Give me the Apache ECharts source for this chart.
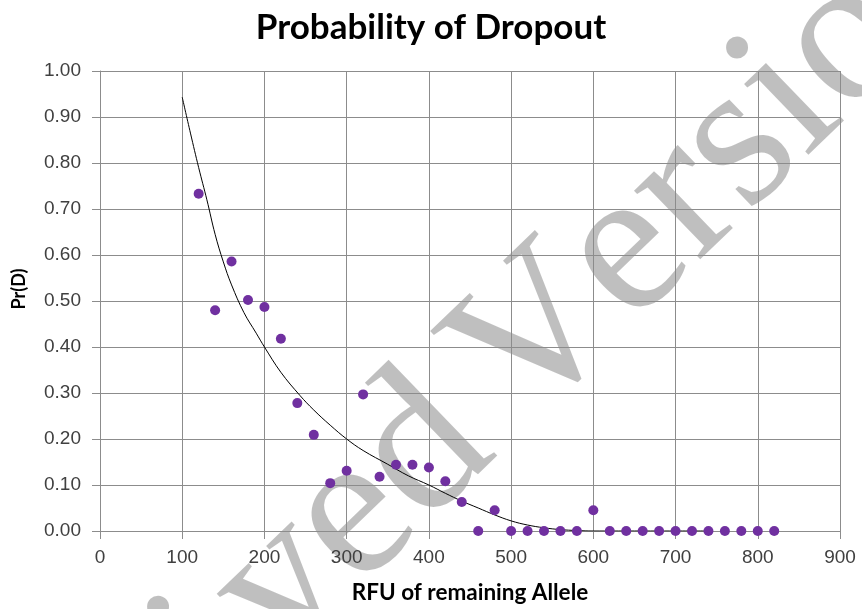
<!DOCTYPE html>
<html>
<head>
<meta charset="utf-8">
<script src="https://cdn.jsdelivr.net/npm/echarts@6/dist/echarts.min.js"></script>
<style>
html,body{margin:0;padding:0;background:#fff;}
#c{width:862px;height:609px;}
</style>
</head>
<body>
<div id="c"></div>
<script>
// Observed data points: RFU vs Pr(D)
var rfu = [120,140,160,180,200,220,240,260,280,300,320,340,360,380,400,420,440,460,480,500,520,540,560,580,600,620,640,660,680,700,720,740,760,780,800,820];
var prD = [0.733,0.48,0.586,0.502,0.487,0.418,0.278,0.209,0.104,0.131,0.297,0.118,0.144,0.144,0.138,0.108,0.063,0,0.045,0,0,0,0,0,0.045,0,0,0,0,0,0,0,0,0,0,0];
// Fitted curve
var curveX = [100,110,120,130,140,150,160,175,190,200,220,243,260,280,300,320,350,375,400,420,440,460,480,500,520,540,560,580,600,650,700,736];
var curveY = [0.943,0.865,0.79,0.72,0.645,0.585,0.535,0.475,0.43,0.40,0.345,0.295,0.263,0.23,0.20,0.175,0.145,0.12,0.10,0.082,0.065,0.05,0.035,0.022,0.013,0.007,0.003,0.001,0,0,0,0];
var titleText = 'Probability of Dropout';
var xName = 'RFU of remaining Allele';
var yName = 'Pr(D)';
var watermarkA = 'Archived ';
var watermarkB = 'Version';

var pts = rfu.map(function(v,i){return [v, prD[i]];});
var crv = curveX.map(function(v,i){return [v, curveY[i]];});

// watermark laid out letter by letter (no kerning)
var WM_SIZE = 208;
var adv = {A:.722,r:.333,c:.444,h:.5,i:.278,v:.6,e:.444,d:.46,' ':.2,V:.722,s:.389,o:.5,n:.5};
function wmLetters(){
  var out = [], pos = 0, k, ch;
  for (k = watermarkA.length - 1; k >= 0; k--) {
    ch = watermarkA[k]; pos -= adv[ch] * WM_SIZE;
    if (ch !== ' ') out.push(letter(ch, pos + (ch === 'v' ? 0.1 * WM_SIZE : 0)));
  }
  pos = 0;
  for (k = 0; k < watermarkB.length; k++) {
    ch = watermarkB[k]; out.push(letter(ch, pos)); pos += adv[ch] * WM_SIZE;
  }
  return out;
}
function letter(ch, x){
  return {type:'text', x:x, y:-0.305*WM_SIZE, style:{text:ch, fontFamily:'Liberation Serif',
    fontSize:WM_SIZE, fill:'rgba(0,0,0,0.25)', textAlign:'left', verticalAlign:'middle'}};
}

var chart = echarts.init(document.getElementById('c'), null, {renderer:'canvas'});
var gridCol = '#8c8c8c';
var labelCol = '#404040';
chart.setOption({
  animation:false,
  backgroundColor:'#fff',
  title:{text:titleText,left:'center',top:5,
    textStyle:{fontFamily:'Lato',fontWeight:'bold',fontSize:35,color:'#000'}},
  grid:{left:100,right:22,top:71,bottom:74,containLabel:false},
  xAxis:{type:'value',min:0,max:900,interval:100,
    name:xName,nameLocation:'middle',nameGap:50,
    nameTextStyle:{fontFamily:'Lato',fontWeight:'bold',fontSize:22.5,color:'#000'},
    axisLine:{show:true,lineStyle:{color:gridCol,width:1}},
    axisTick:{show:true,length:8,lineStyle:{color:gridCol}},
    axisLabel:{margin:17,fontFamily:'Liberation Sans',fontSize:19,color:labelCol},
    splitLine:{show:true,lineStyle:{color:gridCol,width:1}}},
  yAxis:{type:'value',min:0,max:1,interval:0.1,
    name:yName,nameLocation:'middle',nameGap:72,nameRotate:90,
    nameTextStyle:{fontFamily:'Lato',fontWeight:'bold',fontSize:18,color:'#000',padding:[0,0,0,24]},
    axisLine:{show:true,lineStyle:{color:gridCol,width:1}},
    axisTick:{show:true,length:8,lineStyle:{color:gridCol}},
    axisLabel:{margin:19,fontFamily:'Liberation Sans',fontSize:19,color:labelCol,
      formatter:function(v){return v.toFixed(2);}},
    splitLine:{show:true,lineStyle:{color:gridCol,width:1}}},
  series:[
    {type:'line',data:crv,smooth:0.4,symbol:'none',lineStyle:{color:'#000',width:1},z:2},
    {type:'scatter',data:pts,symbolSize:10,itemStyle:{color:'#7030A0',opacity:1},z:3}
  ],
  graphic:[{
    type:'group',x:529,y:437,rotation:44*Math.PI/180,z:100,silent:true,
    children:wmLetters()
  }]
});
</script>
</body>
</html>
